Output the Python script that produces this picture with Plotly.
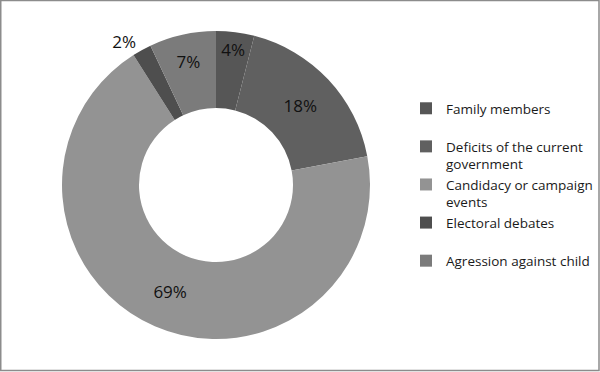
import plotly.graph_objects as go

categories = ["Family members", "Deficits of the current government", "Candidacy or campaign events",
              "Electoral debates", "Agression against child"]
legend_labels = ["Family members<br> ", "Deficits of the current<br>government", "Candidacy or campaign<br>events",
                 "Electoral debates<br> ", "Agression against child<br> "]
values = [4, 18, 69, 2, 7]
colors = ["#565656", "#606060", "#939393", "#4e4e4e", "#7b7b7b"]
text_positions = ["inside", "inside", "inside", "outside", "inside"]

fig = go.Figure(go.Pie(
    labels=legend_labels,
    values=values,
    customdata=categories,
    marker=dict(colors=colors, line=dict(width=0)),
    hole=0.5,
    sort=False,
    direction="clockwise",
    rotation=0,
    texttemplate="%{value}%",
    textposition=text_positions,
    insidetextorientation="horizontal",
    textfont=dict(size=17, color="#111111", family="Open Sans"),
    domain=dict(x=[62/600, 370/600], y=[27/372, 347/372]),
    showlegend=True,
))

fig.update_layout(
    width=600, height=372,
    margin=dict(l=0, r=0, t=0, b=0, autoexpand=False),
    paper_bgcolor="white",
    plot_bgcolor="white",
    font=dict(family="Open Sans", size=13.5, color="#1a1a1a"),
    legend=dict(x=406/600, y=1 - 93/372, xanchor="left", yanchor="top",
                valign="top", font=dict(size=13.5, family="Open Sans"),
                bgcolor="rgba(0,0,0,0)",
                itemwidth=30, tracegroupgap=0),
    shapes=[dict(type="rect", xref="paper", yref="paper",
                 x0=0.75/600, x1=599/600, y0=1.5/372, y1=371.5/372,
                 line=dict(color="#8c8c8c", width=1.5))],
)

fig.write_html("out.html", config={"displayModeBar": False},
               post_script="document.body.style.margin='0';document.body.style.padding='0';")
